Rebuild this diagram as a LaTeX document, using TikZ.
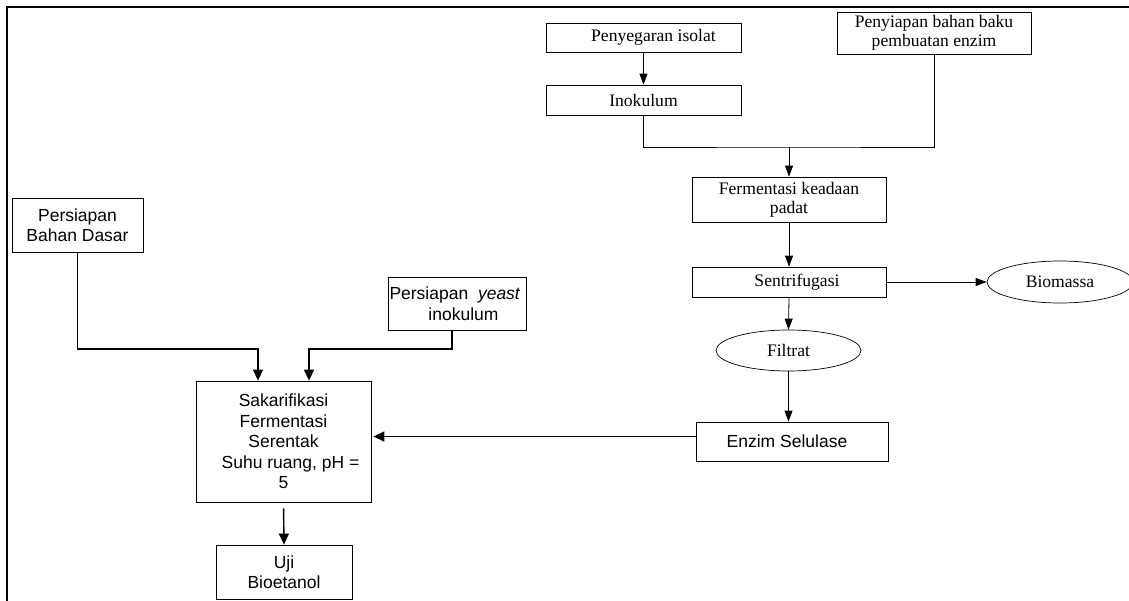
\documentclass[tikz,border=0pt]{standalone}
\usepackage{fontspec}
\setmainfont{Liberation Serif}
\setsansfont{Liberation Sans}
\usetikzlibrary{arrows.meta,shapes.geometric}
\begin{document}
\begin{tikzpicture}[x=1pt,y=-1pt,
  sbox/.style={draw, line width=0.7pt, inner sep=0pt, align=center, font=\fontsize{17.6}{19}\selectfont},
  fbox/.style={draw, line width=0.8pt, inner sep=0pt, align=center, font=\sffamily\fontsize{17.5}{20.5}\selectfont},
  sell/.style={draw, ellipse, line width=0.7pt, inner sep=0pt, font=\fontsize{17.6}{19}\selectfont},
  sarr/.style={-{Triangle[length=11pt,width=8pt]}, line width=0.8pt},
  farr/.style={-{Triangle[length=11pt,width=10pt]}, line width=1.4pt},
  sline/.style={line width=0.8pt}]
\useasboundingbox (0,0) rectangle (1129,601);
% frame
\draw[line width=2pt] (7,601) -- (7,7) -- (1130,7);
% serif part
\node[sbox, minimum width=195pt, minimum height=29pt] (peny) at (643.5,37.5) {\hspace*{20pt}Penyegaran isolat};
\node[sbox, minimum width=195pt, minimum height=30pt] (inok) at (643.5,100) {Inokulum};
\node[sbox, minimum width=194pt, minimum height=42pt] (baku) at (934,33) {Penyiapan bahan baku\\pembuatan enzim};
\node[sbox, minimum width=194pt, minimum height=45pt] (ferm) at (789,199.5) {Fermentasi keadaan\\padat};
\node[sbox, minimum width=194pt, minimum height=30pt] (sent) at (789,282) {\hspace*{16pt}Sentrifugasi};
\node[sell, minimum width=146pt, minimum height=42pt] (bio) at (1060,282) {Biomassa};
\node[sell, minimum width=145pt, minimum height=41pt] (filt) at (788.5,350.5) {Filtrat};
\coordinate (j1) at (789,147);
\draw[sline] (inok.south) |- (j1) -| (baku.south);
\draw[sarr] (peny.south) -- (inok.north);
\draw[sarr] (j1) -- (ferm.north);
\draw[sarr] (ferm.south) -- (sent.north);
\draw[sarr] (sent.east) -- (bio.west);
\draw[sarr] (sent.south) -- (filt.north);
% sans part
\node[fbox, minimum width=192pt, minimum height=39pt] (enz) at (792,441.5) {Enzim Selulase\hspace*{10pt}};
\node[fbox, minimum width=175pt, minimum height=121pt] (sak) at (283.5,441.5) {Sakarifikasi\\Fermentasi\\Serentak\hspace*{10pt}\\\hspace*{14pt}Suhu ruang, pH =\\5};
\node[fbox, minimum width=131pt, minimum height=54pt] (dasar) at (77.5,225) {Persiapan\\Bahan Dasar};
\node[fbox, minimum width=138pt, minimum height=53pt] (yeast) at (457.5,303.5) {\makebox[136pt][l]{Persiapan\ \ \textit{yeast}}\\\hspace*{12pt}inokulum};
\node[fbox, minimum width=136pt, minimum height=54pt] (uji) at (284,572) {Uji\\Bioetanol};
\draw[sarr] (filt.south) -- (filt.south |- enz.north);
\draw[farr, shorten >=2pt] ([yshift=5pt]enz.west) -- ([yshift=5pt]enz.west -| sak.east);
\draw[farr] (dasar.south) |- (258,349) -- ([xshift=-25.5pt]sak.north);
\draw[farr] ([xshift=-5.5pt]yeast.south) |- (309,349) -- ([xshift=25.5pt]sak.north);
\draw[farr, shorten <=6pt] (sak.south) -- (uji.north);
\end{tikzpicture}
\end{document}
